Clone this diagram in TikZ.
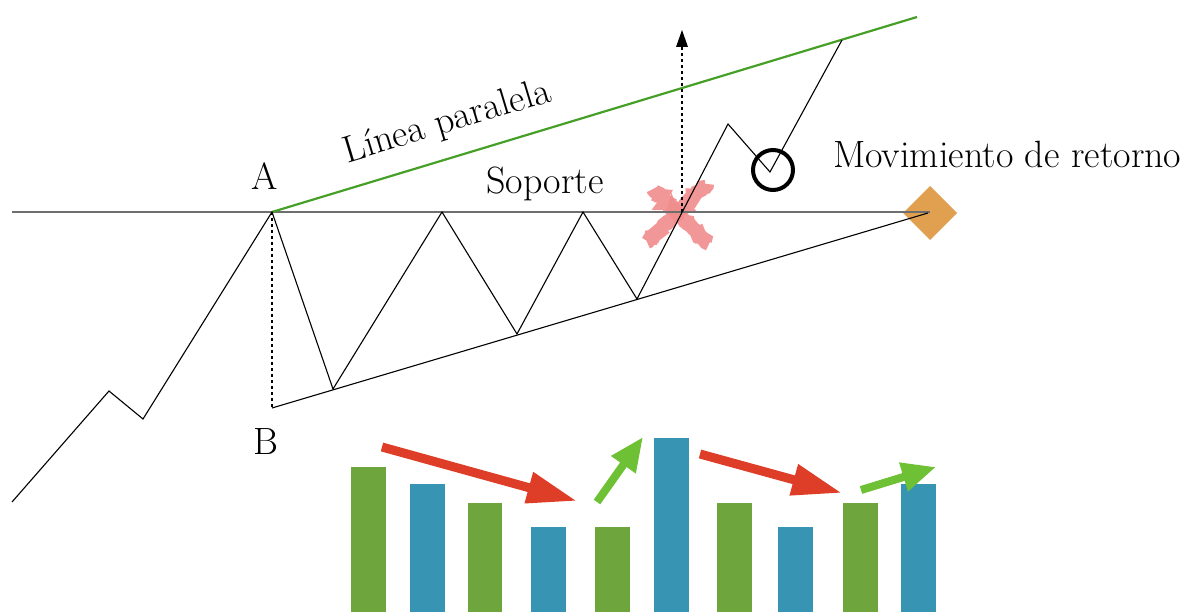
\documentclass[tikz,border=0pt]{standalone}
\usetikzlibrary{arrows.meta,decorations.pathmorphing}
\definecolor{gline}{RGB}{70,160,40}
\definecolor{gbar}{RGB}{110,165,60}
\definecolor{bbar}{RGB}{55,148,178}
\definecolor{redarr}{RGB}{222,62,40}
\definecolor{grnarr}{RGB}{110,192,52}
\definecolor{xpink}{RGB}{240,140,140}
\definecolor{dorange}{RGB}{225,160,80}
\definecolor{supgray}{RGB}{110,110,110}
\tikzset{
  lbl/.style={font=\fontsize{38}{44}\selectfont, inner sep=0pt, anchor=base},
  price/.style={draw=black, line width=1.1pt, line join=miter},
  dotline/.style={draw=black, line width=2.4pt, dash pattern=on 3pt off 3pt},
  bigarrow/.style={line width=9pt, -{Triangle[length=50pt,width=30pt]}},
  greenarrow/.style={line width=8pt, -{Triangle[length=34pt,width=28pt]}},
  gbarst/.style={fill=gbar},
  bbarst/.style={fill=bbar},
  xarm/.style={xpink, line width=14pt, opacity=0.9, decorate,
    decoration={random steps,segment length=2pt,amplitude=1.3pt}},
}
\begin{document}
\begin{tikzpicture}[x=1pt,y=-1pt]
\useasboundingbox (0,0) rectangle (1187,612);
% key points
\coordinate (L0) at (12,212);
\coordinate (A) at (272,212);
\coordinate (S1) at (930,212);
\coordinate (B) at (272,408);
\coordinate (T1) at (928,213);
\coordinate (G1) at (917,17);
\coordinate (P0) at (12,502);
\coordinate (P1) at (109,391);
\coordinate (P2) at (143,419);
\coordinate (P3) at (333,389);
\coordinate (P4) at (442,212);
\coordinate (P5) at (517,334);
\coordinate (P6) at (583,212);
\coordinate (P7) at (637,299);
\coordinate (P8) at (728,124);
\coordinate (P9) at (770,172);
\coordinate (P10) at (842,40);
\coordinate (X0) at (682,212);
\coordinate (X1) at (682,30);
% diamond
\fill[dorange] (903,213) -- (930,186) -- (957,213) -- (930,240) -- cycle;
% red X
\draw[xarm] (653,189) -- (709,244);
\draw[xarm] (707,184) -- (647,242);
% support line
\draw[supgray, line width=1.6pt] (L0) -- (S1);
% lower trend line
\draw[price] (B) -- (T1);
% parallel line
\draw[gline, line width=2.2pt] (A) -- (G1);
% price path
\draw[price] (P0) -- (P1) -- (P2) -- (A) -- (P3) -- (P4) -- (P5) -- (P6) -- (P7) -- (P8) -- (P9) -- (P10);
% dotted lines
\draw[dotline] (A) -- (B);
\draw[dotline] (X0) -- (682,46);
\fill[black] (X1) -- (676,47) -- (688,47) -- cycle;
% circle
\node[draw=black, line width=4pt, circle, minimum size=40pt, inner sep=0pt] (C) at (773,170) {};
% labels
\node[lbl] (lA) at (265,190) {A};
\node[lbl] (lB) at (266,454) {B};
\node[lbl] (lS) at (545,194) {Soporte};
\node[lbl, anchor=base west] (lM) at (833,168) {Movimiento de retorno};
\node[lbl, rotate=16.8] (lL) at (450,132) {Línea paralela};
% bars
\fill[gbarst] (351,467) rectangle (386,612);
\fill[bbarst] (410,484) rectangle (445,612);
\fill[gbarst] (468,503) rectangle (502,612);
\fill[bbarst] (531,527) rectangle (566,612);
\fill[gbarst] (595,527) rectangle (630,612);
\fill[bbarst] (654,438) rectangle (689,612);
\fill[gbarst] (717,503) rectangle (752,612);
\fill[bbarst] (778,527) rectangle (813,612);
\fill[gbarst] (843,503) rectangle (878,612);
\fill[bbarst] (901,484) rectangle (936,612);
% arrows
\coordinate (R1a) at (382,447);
\coordinate (R1b) at (577,501);
\coordinate (G1a) at (597,502);
\coordinate (G1b) at (643,437);
\coordinate (R2a) at (700,454);
\coordinate (R2b) at (842,493);
\coordinate (G2a) at (861,490);
\coordinate (G2b) at (936,467);
\draw[redarr, bigarrow] (R1a) -- (R1b);
\draw[grnarr, greenarrow] (G1a) -- (G1b);
\draw[redarr, bigarrow] (R2a) -- (R2b);
\draw[grnarr, greenarrow] (G2a) -- (G2b);
\end{tikzpicture}
\end{document}
